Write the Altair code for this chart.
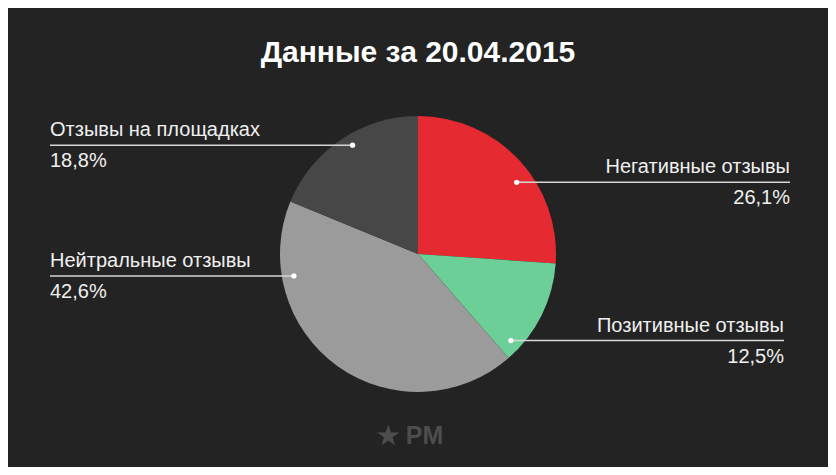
import math
import altair as alt
import pandas as pd

# ---- data ----
categories = ["Негативные отзывы", "Позитивные отзывы", "Нейтральные отзывы", "Отзывы на площадках"]
values = [26.1, 12.5, 42.6, 18.8]
pct_labels = ["26,1%", "12,5%", "42,6%", "18,8%"]
colors = ["#e52a32", "#6dcf98", "#9b9b9b", "#474747"]
title_text = "Данные за 20.04.2015"
watermark = "★ PM"

# ---- layout ----
W, H = 820, 459
CX, CY, R = 410, 246, 138
anchor_angle = [54, 133, 260, 329]      # degrees clockwise from top
anchor_radius = [122, 127, 126, 127]
side = ["right", "right", "left", "left"]
line_end = [782, 776, 42, 42]
FONT = "Liberation Sans"

pie_df = pd.DataFrame({
    "category": categories,
    "value": values,
    "order": list(range(len(values))),
})

rows = []
for i, cat in enumerate(categories):
    a = math.radians(anchor_angle[i])
    dx = CX + anchor_radius[i] * math.sin(a)
    dy = CY - anchor_radius[i] * math.cos(a)
    rows.append({
        "category": cat, "pct": pct_labels[i], "side": side[i],
        "dot_x": dx, "dot_y": dy, "end_x": line_end[i],
        "name_y": dy - 15, "pct_y": dy + 16,
    })
lab_df = pd.DataFrame(rows)

xs = alt.Scale(domain=[0, W], range=[0, W])
ys = alt.Scale(domain=[0, H], range=[0, H])

pie = alt.Chart(pie_df).mark_arc(radius=R, stroke=None).encode(
    theta=alt.Theta("value:Q", stack=True),
    color=alt.Color("category:N", scale=alt.Scale(domain=categories, range=colors), legend=None),
    order=alt.Order("order:Q"),
    x=alt.value(CX),
    y=alt.value(CY),
)

base = alt.Chart(lab_df)

lines = base.mark_rule(color="#d6d6d6", strokeWidth=1.5).encode(
    x=alt.X("dot_x:Q", scale=xs, axis=None),
    x2="end_x:Q",
    y=alt.Y("dot_y:Q", scale=ys, axis=None),
)

dots = base.mark_circle(color="#ffffff", opacity=1, size=28).encode(
    x=alt.X("dot_x:Q", scale=xs, axis=None),
    y=alt.Y("dot_y:Q", scale=ys, axis=None),
)

right_df = lab_df[lab_df.side == "right"]
left_df = lab_df[lab_df.side == "left"]

def texts(df, align, field, yfield):
    return alt.Chart(df).mark_text(
        align=align, baseline="middle", font=FONT, fontSize=20, color="#f0f0f0"
    ).encode(
        x=alt.X("end_x:Q", scale=xs, axis=None),
        y=alt.Y(f"{yfield}:Q", scale=ys, axis=None),
        text=f"{field}:N",
    )

labels = (
    texts(right_df, "right", "category", "name_y")
    + texts(right_df, "right", "pct", "pct_y")
    + texts(left_df, "left", "category", "name_y")
    + texts(left_df, "left", "pct", "pct_y")
)

title_df = pd.DataFrame({"t": [title_text], "x": [W / 2], "y": [45]})
title = alt.Chart(title_df).mark_text(
    align="center", baseline="middle", font=FONT, fontSize=30, fontWeight="bold", color="#ffffff"
).encode(
    x=alt.X("x:Q", scale=xs, axis=None),
    y=alt.Y("y:Q", scale=ys, axis=None),
    text="t:N",
)

wm_df = pd.DataFrame({"t": [watermark], "x": [402], "y": [428]})
wm = alt.Chart(wm_df).mark_text(
    align="center", baseline="middle", font=FONT, fontSize=25, fontWeight="bold",
    color="#4d4d4d"
).encode(
    x=alt.X("x:Q", scale=xs, axis=None),
    y=alt.Y("y:Q", scale=ys, axis=None),
    text="t:N",
)

chart = alt.layer(pie, lines, dots, labels, title, wm).properties(
    width=W, height=H, background="#232323", padding=0,
    autosize=alt.AutoSizeParams(type="none"),
).configure_view(stroke=None)

chart.save("out.html", embed_options={"renderer": "svg", "actions": False})
